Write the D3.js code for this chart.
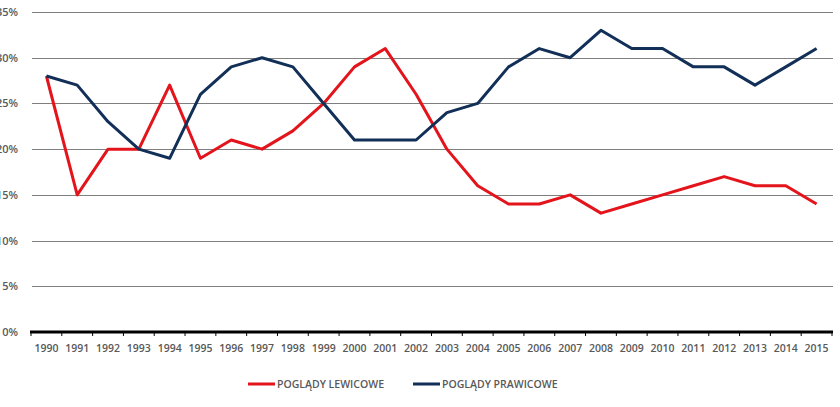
<!DOCTYPE html>
<html><head><meta charset="utf-8">
<script src="https://cdn.jsdelivr.net/npm/d3@7"></script>
<style>
html,body{margin:0;padding:0;background:#fff;}
svg{display:block;}
text{font-family:"Open Sans","Liberation Sans",sans-serif;fill:#595959;font-weight:600;}
</style></head>
<body>
<svg id="c" width="840" height="407"></svg>
<script>
const years = ["1990","1991","1992","1993","1994","1995","1996","1997","1998","1999","2000","2001","2002","2003","2004","2005","2006","2007","2008","2009","2010","2011","2012","2013","2014","2015"];
const leftViews = [28,15,20,20,27,19,21,20,22,25,29,31,26,20,16,14,14,15,13,14,15,16,17,16,16,14];
const rightViews = [28,27,23,20,19,26,29,30,29,25,21,21,21,24,25,29,31,30,33,31,31,29,29,27,29,31];
const yTicks = [0,5,10,15,20,25,30,35];
const seriesNames = ["POGLĄDY LEWICOWE","POGLĄDY PRAWICOWE"];
const seriesColors = ["#e3141b","#122f57"];

const svg = d3.select("#c");
const x = d3.scaleBand().domain(years).range([31,832]);
const y = d3.scaleLinear().domain([0,35]).range([332,12]);

// gridlines
svg.append("g").selectAll("line").data(yTicks.filter(d=>d>0)).join("line")
  .attr("x1",32).attr("x2",833)
  .attr("y1",d=>Math.round(y(d))+0.5).attr("y2",d=>Math.round(y(d))+0.5)
  .attr("stroke","#7f7f7f").attr("stroke-width",1);

// y labels
svg.append("g").selectAll("text").data(yTicks).join("text")
  .attr("x",18).attr("y",d=>y(d)+4)
  .attr("text-anchor","end").attr("font-size",11)
  .text(d=>d+"%");

// x axis
const xAxis = d3.axisBottom(x).tickSize(0).tickPadding(13);
const gx = svg.append("g").attr("transform","translate(0,332)").call(xAxis);
gx.select(".domain").remove();
gx.selectAll("text").attr("font-size",10.5).style("font-family","'Open Sans','Liberation Sans',sans-serif").attr("fill","#595959").attr("font-weight",600);
// tick marks at band boundaries
const bounds = years.map(d=>x(d)).concat([x(years[years.length-1])+x.bandwidth()]);
svg.append("g").selectAll("line").data(bounds).join("line")
  .attr("x1",d=>d).attr("x2",d=>d).attr("y1",332).attr("y2",336)
  .attr("stroke","#000").attr("stroke-width",1);
svg.append("line").attr("x1",30).attr("x2",833).attr("y1",332).attr("y2",332)
  .attr("stroke","#000").attr("stroke-width",3);

// lines
const line = d3.line().x((d,i)=>x(years[i])+x.bandwidth()/2).y(d=>y(d));
[leftViews, rightViews].forEach((vals,k)=>{
  svg.append("path").datum(vals).attr("d",line)
    .attr("fill","none").attr("stroke",seriesColors[k]).attr("stroke-width",3)
    .attr("stroke-linejoin","round");
});

// legend
const legX = [248,413];
seriesNames.forEach((n,k)=>{
  svg.append("line").attr("x1",legX[k]).attr("x2",legX[k]+27).attr("y1",384).attr("y2",384)
    .attr("stroke",seriesColors[k]).attr("stroke-width",3);
  svg.append("text").attr("x",legX[k]+29).attr("y",388).attr("font-size",10.5).text(n);
});
</script>
</body></html>
